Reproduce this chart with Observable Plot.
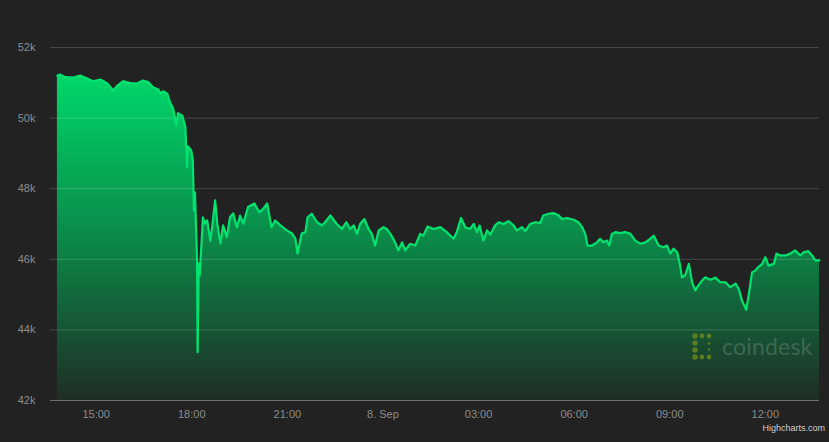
<!DOCTYPE html>
<html>
<head>
<meta charset="utf-8">
<script src="https://cdn.jsdelivr.net/npm/d3@7"></script>
<script src="https://cdn.jsdelivr.net/npm/@observablehq/plot@0.6"></script>
<style>
html, body { margin: 0; padding: 0; background: #222222; }
#wrap { position: relative; width: 829px; height: 442px; overflow: hidden; background: #222222; }
#credit { position: absolute; right: 4px; top: 423px; font: 9px "Liberation Sans", Arial, sans-serif; color: #d0d0d0; }
#mark { position: absolute; left: 692px; top: 332px; display: flex; align-items: center; pointer-events: none; }
#mark span { font: 400 23px Lato, "Open Sans", sans-serif; color: rgba(150, 180, 160, 0.3); margin-left: 6px; letter-spacing: 0.2px; }
</style>
</head>
<body>
<div id="wrap"></div>
<script>
// Bitcoin price (USD), 7-8 Sep 2021
const times = [
"2021-09-07 13:47","2021-09-07 13:52","2021-09-07 14:02","2021-09-07 14:17","2021-09-07 14:30","2021-09-07 14:43","2021-09-07 14:54",
"2021-09-07 15:08","2021-09-07 15:21","2021-09-07 15:32","2021-09-07 15:40","2021-09-07 15:51","2021-09-07 16:04","2021-09-07 16:17",
"2021-09-07 16:28","2021-09-07 16:38","2021-09-07 16:47","2021-09-07 16:57","2021-09-07 17:02","2021-09-07 17:06","2021-09-07 17:14",
"2021-09-07 17:19","2021-09-07 17:25","2021-09-07 17:31","2021-09-07 17:34","2021-09-07 17:42","2021-09-07 17:48","2021-09-07 17:51",
"2021-09-07 17:53","2021-09-07 17:59","2021-09-07 18:02","2021-09-07 18:04","2021-09-07 18:06","2021-09-07 18:10","2021-09-07 18:11",
"2021-09-07 18:13","2021-09-07 18:15","2021-09-07 18:21","2021-09-07 18:25","2021-09-07 18:29","2021-09-07 18:35","2021-09-07 18:38",
"2021-09-07 18:44","2021-09-07 18:48","2021-09-07 18:54","2021-09-07 18:59","2021-09-07 19:06","2021-09-07 19:12","2021-09-07 19:18",
"2021-09-07 19:25","2021-09-07 19:31","2021-09-07 19:37","2021-09-07 19:46","2021-09-07 19:58","2021-09-07 20:07","2021-09-07 20:15",
"2021-09-07 20:22","2021-09-07 20:30","2021-09-07 20:37","2021-09-07 20:47","2021-09-07 20:59","2021-09-07 21:09","2021-09-07 21:15",
"2021-09-07 21:19","2021-09-07 21:27","2021-09-07 21:34","2021-09-07 21:38","2021-09-07 21:46","2021-09-07 21:56","2021-09-07 22:05",
"2021-09-07 22:11","2021-09-07 22:21","2021-09-07 22:33","2021-09-07 22:43","2021-09-07 22:51","2021-09-07 22:58","2021-09-07 23:05",
"2021-09-07 23:11","2021-09-07 23:17","2021-09-07 23:25","2021-09-07 23:33","2021-09-07 23:39","2021-09-07 23:45","2021-09-07 23:52",
"2021-09-08 00:01","2021-09-08 00:07","2021-09-08 00:14","2021-09-08 00:23","2021-09-08 00:29","2021-09-08 00:36","2021-09-08 00:42",
"2021-09-08 00:51","2021-09-08 01:01","2021-09-08 01:10","2021-09-08 01:16","2021-09-08 01:24","2021-09-08 01:35","2021-09-08 01:48",
"2021-09-08 02:00","2021-09-08 02:13","2021-09-08 02:19","2021-09-08 02:27","2021-09-08 02:35","2021-09-08 02:44","2021-09-08 02:51",
"2021-09-08 02:57","2021-09-08 03:02","2021-09-08 03:09","2021-09-08 03:16","2021-09-08 03:22","2021-09-08 03:31","2021-09-08 03:38",
"2021-09-08 03:47","2021-09-08 03:56","2021-09-08 04:06","2021-09-08 04:12","2021-09-08 04:22","2021-09-08 04:28","2021-09-08 04:37",
"2021-09-08 04:47","2021-09-08 04:56","2021-09-08 05:02","2021-09-08 05:12","2021-09-08 05:21","2021-09-08 05:31","2021-09-08 05:37",
"2021-09-08 05:46","2021-09-08 05:59","2021-09-08 06:08","2021-09-08 06:15","2021-09-08 06:21","2021-09-08 06:25","2021-09-08 06:34",
"2021-09-08 06:43","2021-09-08 06:49","2021-09-08 06:55","2021-09-08 07:02","2021-09-08 07:06","2021-09-08 07:11","2021-09-08 07:18",
"2021-09-08 07:27","2021-09-08 07:36","2021-09-08 07:46","2021-09-08 07:55","2021-09-08 08:05","2021-09-08 08:14","2021-09-08 08:23",
"2021-09-08 08:30","2021-09-08 08:39","2021-09-08 08:48","2021-09-08 08:55","2021-09-08 09:01","2021-09-08 09:07","2021-09-08 09:14",
"2021-09-08 09:19","2021-09-08 09:23","2021-09-08 09:29","2021-09-08 09:36","2021-09-08 09:42","2021-09-08 09:48","2021-09-08 09:54",
"2021-09-08 10:01","2021-09-08 10:07","2021-09-08 10:16","2021-09-08 10:26","2021-09-08 10:35","2021-09-08 10:45","2021-09-08 10:54",
"2021-09-08 11:04","2021-09-08 11:10","2021-09-08 11:16","2021-09-08 11:24","2021-09-08 11:29","2021-09-08 11:35","2021-09-08 11:41",
"2021-09-08 11:47","2021-09-08 11:54","2021-09-08 12:00","2021-09-08 12:06","2021-09-08 12:16","2021-09-08 12:21","2021-09-08 12:28",
"2021-09-08 12:38","2021-09-08 12:47","2021-09-08 12:56","2021-09-08 13:06","2021-09-08 13:12","2021-09-08 13:21","2021-09-08 13:28",
"2021-09-08 13:34","2021-09-08 13:42"
];
const prices = [
51207,51235,51160,51150,51207,51120,51045,
51095,50980,50780,50920,51045,50990,50980,
51065,51020,50875,50810,50690,50760,50690,
50450,50270,49790,50140,50070,49745,48610,
49200,49080,48800,47380,47900,45970,43370,
45880,45540,47190,47010,47100,46530,46870,
47670,47010,46450,46960,46630,47190,47300,
46910,47240,47010,47480,47580,47330,47440,
47580,46910,47100,46960,46820,46730,46590,
46160,46730,46770,47190,47290,47050,46960,
47050,47240,47000,46860,47050,46860,46960,
46720,47000,47140,46860,46720,46390,46820,
46910,46860,46720,46480,46250,46480,46250,
46440,46390,46720,46670,46930,46860,46910,
46770,46580,46770,47170,46910,46860,47000,
46770,46960,46530,46820,46700,46960,47050,
47000,47080,46960,46820,46910,46800,47000,
47050,47030,47240,47290,47310,47240,47140,
47170,47120,47050,46910,46720,46390,46390,
46480,46580,46480,46530,46390,46720,46770,
46740,46770,46720,46530,46440,46480,46580,
46670,46390,46340,46390,46160,46300,46200,
45870,45490,45540,45870,45350,45120,45260,
45400,45490,45420,45480,45350,45350,45210,
45310,45160,44830,44570,45020,45630,45680,
45780,45870,46060,45820,45870,46160,46110,
46110,46160,46250,46110,46200,46230,46110,
45970,45970
];
const yTicks = [42000, 44000, 46000, 48000, 50000, 52000];
const xTickTimes = ["2021-09-07 15:00","2021-09-07 18:00","2021-09-07 21:00","2021-09-08 00:00","2021-09-08 03:00","2021-09-08 06:00","2021-09-08 09:00","2021-09-08 12:00"];
const xTickLabels = ["15:00","18:00","21:00","8. Sep","03:00","06:00","09:00","12:00"];
const xDomain = ["2021-09-07 13:34", "2021-09-08 13:42"];

const parse = d3.utcParse("%Y-%m-%d %H:%M");
const data = times.map((t, i) => ({ date: parse(t), price: prices[i] }));
const tickDates = xTickTimes.map(parse);
const labelOf = new Map(tickDates.map((d, i) => [+d, xTickLabels[i]]));

const chart = Plot.plot({
  width: 829,
  height: 442,
  marginLeft: 50,
  marginRight: 10,
  marginTop: 47,
  marginBottom: 42,
  style: { background: "#222222", color: "#8c8c8c", fontFamily: "'Liberation Sans', Arial, sans-serif", fontSize: "11px" },
  x: { type: "utc", domain: xDomain.map(parse), ticks: tickDates, tickFormat: d => labelOf.get(+d), tickSize: 0, tickPadding: 10, label: null },
  y: { domain: [42000, 52000], ticks: yTicks, tickFormat: d => (d / 1000) + "k", tickSize: 0, tickPadding: 15, label: null },
  marks: [
    Plot.areaY(data, { x: "date", y1: 42000, y2: "price", fill: "url(#areaGrad)", curve: "linear" }),
    Plot.ruleY(yTicks.filter(d => d > 42000), { stroke: "#ffffff", strokeOpacity: 0.17, strokeWidth: 1 }),
    Plot.ruleY([42000], { stroke: "#707070", strokeWidth: 1 }),
    Plot.lineY(data, { x: "date", y: "price", stroke: "#00e36f", strokeWidth: 2.2, curve: "linear", strokeLinejoin: "round" })
  ]
});

const svg = d3.select(chart);
const defs = svg.insert("defs", ":first-child");
const g = defs.append("linearGradient").attr("id", "areaGrad").attr("x1", 0).attr("y1", 0).attr("x2", 0).attr("y2", 1);
g.append("stop").attr("offset", "0%").attr("stop-color", "#00d86a").attr("stop-opacity", 1);
g.append("stop").attr("offset", "50%").attr("stop-color", "#0a8a48").attr("stop-opacity", 1);
g.append("stop").attr("offset", "100%").attr("stop-color", "#1f2d25").attr("stop-opacity", 1);

const wrap = document.getElementById("wrap");
wrap.appendChild(chart);

const mark = document.createElement("div");
mark.id = "mark";
mark.innerHTML = `<svg width="24" height="28" viewBox="0 0 24 28">
  <g fill="#6b8a1e" fill-opacity="0.8">
    <circle cx="3" cy="4" r="2.7"/><circle cx="10" cy="4" r="2.4"/><circle cx="17" cy="4" r="2.4"/>
    <circle cx="3" cy="11" r="2.7"/><circle cx="3" cy="18" r="2.7"/>
    <circle cx="3" cy="25" r="2.7"/><circle cx="10" cy="25" r="2.4"/><circle cx="17" cy="25" r="2.4"/>
    <circle cx="17" cy="11.5" r="1.3"/><circle cx="17" cy="17.5" r="1.3"/>
  </g></svg><span>coindesk</span>`;
wrap.appendChild(mark);

const credit = document.createElement("div");
credit.id = "credit";
credit.textContent = "Highcharts.com";
wrap.appendChild(credit);
</script>
</body>
</html>
